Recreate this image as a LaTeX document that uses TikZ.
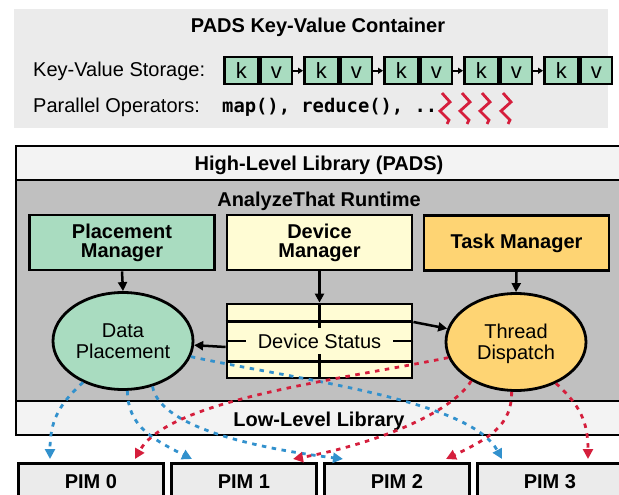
\documentclass[tikz,border=0pt]{standalone}
\usepackage{fontspec}
\setmainfont{Liberation Sans}
\setmonofont{DejaVu Sans Mono}
\usetikzlibrary{arrows.meta,calc,shapes.geometric}

\definecolor{panelgray}{RGB}{235,235,235}
\definecolor{lightsec}{RGB}{243,243,243}
\definecolor{runtimegray}{RGB}{192,192,192}
\definecolor{mintgreen}{RGB}{169,220,192}
\definecolor{paleyellow}{RGB}{255,252,212}
\definecolor{sunorange}{RGB}{254,212,115}
\definecolor{pimgray}{RGB}{235,235,235}
\definecolor{flowblue}{RGB}{50,145,205}
\definecolor{flowred}{RGB}{213,30,60}

\begin{document}
\begin{tikzpicture}[x=1pt,y=-1pt,
  plain/.style={font=\fontsize{20}{20}\selectfont, inner sep=0pt},
  heading/.style={font=\bfseries\fontsize{20}{20}\selectfont, inner sep=0pt},
  kvcell/.style={draw, fill=mintgreen, line width=2.5pt, minimum height=27pt,
    inner sep=0pt, text height=16pt, text depth=0pt,
    font=\fontsize{22}{22}\selectfont},
  mgrbox/.style={draw, line width=2.8pt, minimum width=185pt, minimum height=55pt,
    align=center, inner sep=0pt, font=\bfseries\fontsize{20}{19}\selectfont},
  blob/.style={ellipse, draw, line width=2.8pt, minimum width=140pt,
    minimum height=97pt, align=center, inner sep=0pt, text depth=0pt,
    font=\fontsize{20}{20.5}\selectfont},
  pimbox/.style={draw, fill=pimgray, line width=2.8pt, minimum width=145pt,
    minimum height=36pt, anchor=north west, inner sep=0pt,
    font=\bfseries\fontsize{20}{20}\selectfont},
  framerule/.style={line width=2.8pt},
  solidarrow/.style={line width=2.5pt, -{Triangle[length=9pt,width=9pt]}},
  kvarrow/.style={line width=2pt, -{Triangle[length=5pt,width=6pt]}},
  bflow/.style={flowblue, line width=2.8pt, dash pattern=on 4.5pt off 5.5pt,
    -{Triangle[length=10pt,width=10pt]}},
  rflow/.style={flowred, line width=2.8pt, dash pattern=on 4.5pt off 5.5pt,
    -{Triangle[length=10pt,width=10pt]}},
  squiggle/.style={flowred, line width=2.8pt}
]
\useasboundingbox (0,0) rectangle (619,495);
\clip (0,0) rectangle (619,495);

% ---- container panel ----
\fill[panelgray] (14,9) rectangle (608,128);
\node[heading, anchor=base] (kvtitle) at (318,33) {PADS Key-Value Container};
\node[plain, anchor=base west] (kvlabel) at (33,77) {Key-Value Storage:};
\node[plain, anchor=base west] (oplabel) at (33,113) {Parallel Operators:};
\node[inner sep=0pt, anchor=base west, font=\ttfamily\bfseries\fontsize{18.8}{20}\selectfont]
  (ops) at (222,113) {map(), reduce(), ..};

\foreach \i in {0,...,4} {
  \node[kvcell, minimum width=34pt, anchor=north west] (k\i) at ({223+80*\i},56) {k};
  \node[kvcell, minimum width=31pt, anchor=west] (v\i) at (k\i.east) {v};
}
\foreach \i/\j in {0/1,1/2,2/3,3/4}
  \draw[kvarrow] (v\i.east) -- (k\j.west);

\foreach \d in {0,20,40,61}
  \draw[squiggle] ({442+\d},93) -- ++(8,9) -- ++(-10,9) -- ++(9,9) -- ++(-2,4);

% ---- library stack ----
\fill[lightsec] (16,146) rectangle (640,180);
\fill[runtimegray] (16,180) rectangle (640,401);
\fill[lightsec] (16,401) rectangle (640,435);
\draw[framerule] (640,146) -- (16,146) -- (16,435) -- (640,435);
\draw[framerule] (16,180) -- (640,180);
\draw[framerule] (16,401) -- (640,401);

\node[heading, anchor=base] (highlib) at (319,170) {High-Level Library (PADS)};
\node[heading, anchor=base] (runtime) at (319,206) {AnalyzeThat Runtime};
\node[heading, anchor=base] (lowlib) at (319,426) {Low-Level Library};

% managers
\node[mgrbox, fill=mintgreen] (pm) at (122,242.5) {Placement\\Manager};
\node[mgrbox, fill=paleyellow] (dm) at (319.5,242.5) {Device\\Manager};
\node[mgrbox, fill=sunorange] (tm) at (516.5,243) {Task Manager};

% data placement and thread dispatch
\node[blob, fill=mintgreen] (dp) at (123,341) {Data\\Placement};
\node[blob, fill=sunorange] (td) at (516,342) {Thread\\Dispatch};

% device status table
\node[draw, fill=paleyellow, line width=2.8pt, minimum width=185pt,
  minimum height=74pt, inner sep=0pt] (ds) at (319.5,341) {};
\draw[framerule] ($(ds.north west)+(0,19)$) -- ($(ds.north east)+(0,19)$);
\draw[framerule] ($(ds.south west)+(0,-18)$) -- ($(ds.south east)+(0,-18)$);
\draw[framerule] (ds.north) -- ++(0,25);
\draw[framerule] (ds.south) -- ++(0,-25);
\draw[framerule] (ds.west) -- ++(20,0);
\draw[framerule] (ds.east) -- ++(-20,0);
\node[plain] (dstext) at (ds.center) {Device Status};

% control arrows
\draw[solidarrow] (pm.south) -- (dp.north);
\draw[solidarrow] (dm.south) -- (ds.north);
\draw[solidarrow] (tm.south) -- (td.north);
\draw[solidarrow] ($(ds.west)+(0,6)$) -- (dp);
\draw[solidarrow] ($(ds.east)+(0,-19)$) -- (td);

% PIM devices
\foreach \i in {0,...,3}
  \node[pimbox] (pim\i) at ({17+153*\i},462) {PIM \i};

% arrow targets on the PIM devices
\coordinate (b0) at ($(pim0.north west)+(33,-3)$);
\coordinate (b1) at ($(pim1.north west)+(22,-3)$);
\coordinate (b2) at ($(pim2.north west)+(20,-3)$);
\coordinate (b3) at ($(pim3.north west)+(26,-3)$);
\coordinate (r0) at ($(pim0.north west)+(118,-3)$);
\coordinate (r1) at ($(pim1.north west)+(123,-3)$);
\coordinate (r2) at ($(pim2.north west)+(123,-3)$);
\coordinate (r3) at ($(pim3.north west)+(112,-3)$);

% data placement flows
\draw[bflow] (dp.226) .. controls (58,405) and (50,422) .. (b0);
\draw[bflow] (dp.275) .. controls (128,425) and (150,438) .. (b1);
\draw[bflow] (dp.303) .. controls (160,430) and (270,450) .. (b2);
\draw[bflow] (dp.347) .. controls (300,380) and (470,400) .. (b3);

% thread dispatch flows
\draw[rflow] (td.193) .. controls (338,380) and (168,400) .. (r0);
\draw[rflow] (td.221) .. controls (450,415) and (370,445) .. (r1);
\draw[rflow] (td.265) .. controls (512,425) and (490,438) .. (r2);
\draw[rflow] (td.314) .. controls (580,405) and (588,422) .. (r3);
\end{tikzpicture}
\end{document}
